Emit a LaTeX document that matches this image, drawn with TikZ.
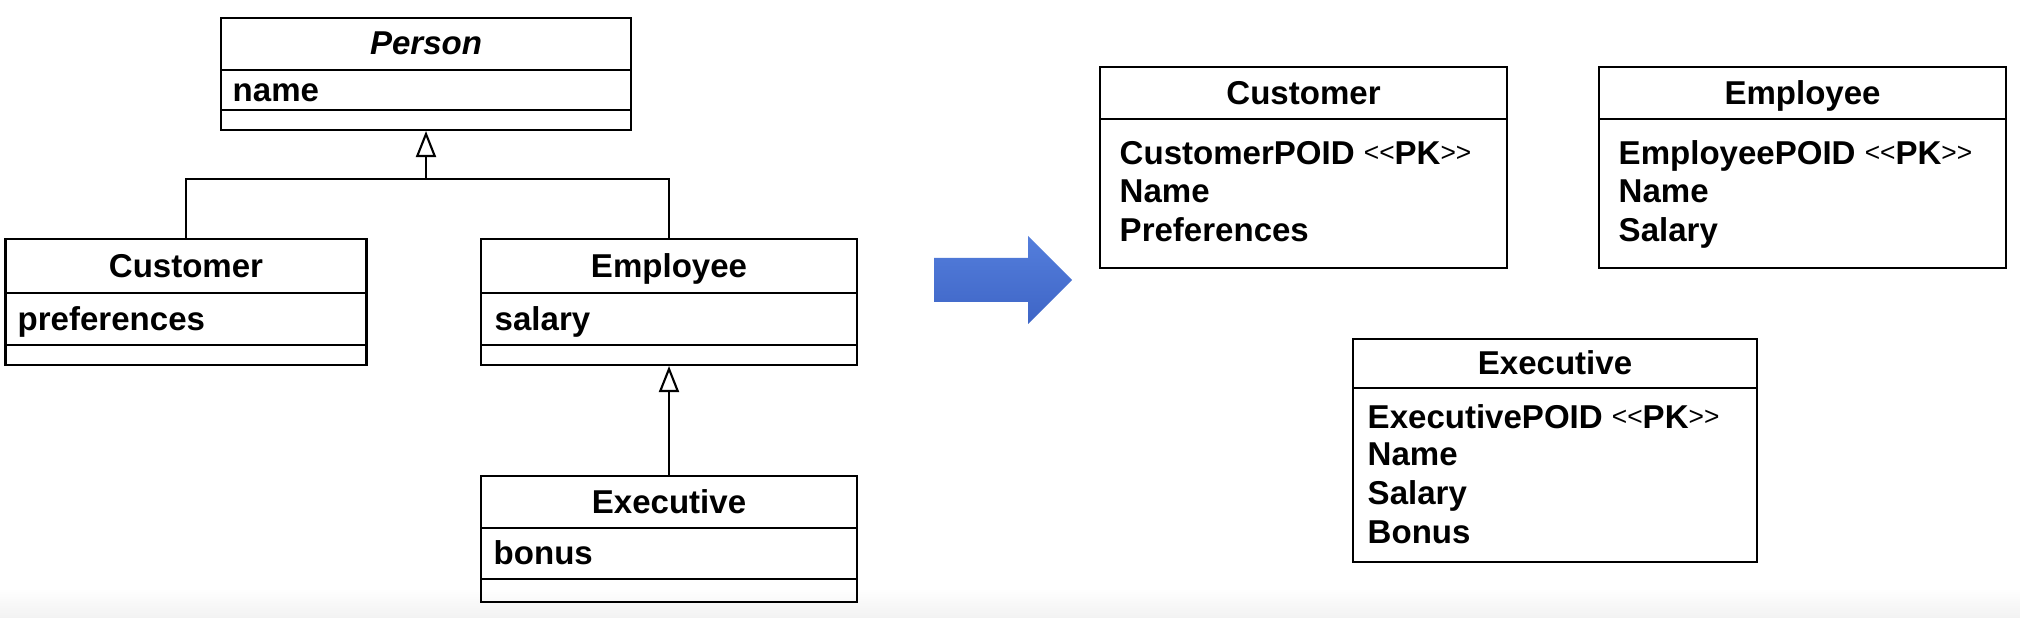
\documentclass[tikz,border=0pt]{standalone}
\usepackage{fontspec}
\setmainfont{Liberation Sans}
\usepackage{xcolor}
\usepackage{tikz}
\usetikzlibrary{positioning,arrows.meta}

\definecolor{arrowtop}{RGB}{84,126,220}
\definecolor{arrowbot}{RGB}{62,101,198}
\definecolor{stripgray}{RGB}{242,242,242}

\tikzset{
  classbox/.style={draw, line width=0.6pt, inner sep=0pt},
  lbl/.style={font=\fontsize{9.4}{11}\selectfont\bfseries, inner sep=0pt,
              text height=2.35mm, text depth=0pt},
  attr/.style={lbl, anchor=west},
  inherit/.style={line width=0.6pt,
    -{Triangle[open, length=2.6mm, width=2mm, line width=0.6pt]}},
}
\newcommand{\angl}[1]{\raisebox{0.8pt}{\fontsize{7.5}{9}\selectfont\mdseries #1}}
\newcommand{\pktag}{\angl{<{}<}PK\angl{>{}>}}

\begin{document}
\begin{tikzpicture}[x=0.1mm, y=-0.1mm]
    \useasboundingbox (0,0) rectangle (2020,618);
    \shade[top color=white, bottom color=stripgray] (0,588) rectangle (2020,618);

    % class model
    \node[classbox, minimum width=41mm, minimum height=11.2mm] (person) at (426,74) {};
    \draw[line width=0.6pt] (221,70) -- (631,70) (221,110) -- (631,110);
    \node[lbl, font=\fontsize{9.4}{11}\selectfont\bfseries\itshape] (persontitle) at (426,43) {Person};
    \node[attr] (personname) at (232,90) {name};

    \node[classbox, minimum width=36.1mm, minimum height=12.6mm] (customer) at (186,302) {};
    \draw[line width=0.6pt] (5.5,293) -- (366.5,293) (5.5,345) -- (366.5,345);
    \node[lbl] (customertitle) at (186,266) {Customer};
    \node[attr] (customerpref) at (17,319) {preferences};

    \node[classbox, minimum width=37.6mm, minimum height=12.6mm] (employee) at (669,302) {};
    \draw[line width=0.6pt] (481,293) -- (857,293) (481,345) -- (857,345);
    \node[lbl] (employeetitle) at (669,266) {Employee};
    \node[attr] (employeesal) at (494,319) {salary};

    \node[classbox, minimum width=37.6mm, minimum height=12.6mm] (executive) at (669,539) {};
    \draw[line width=0.6pt] (481,528) -- (857,528) (481,579) -- (857,579);
    \node[lbl] (executivetitle) at (669,502) {Executive};
    \node[attr] (executivebonus) at (493,553) {bonus};

    \coordinate (split) at (426,179);
    \draw[line width=0.6pt] (customer.north) |- (split) -| (employee.north);
    \draw[inherit] (split) -- (person.south);
    \draw[inherit] (executive.north) -- (employee.south);

    % mapping arrow
    \shade[top color=arrowtop, bottom color=arrowbot]
        (934,258) -- (1028,258) -- (1028,236) -- (1072,280)
        -- (1028,324) -- (1028,302) -- (934,302) -- cycle;

    % tables
    \node[classbox, minimum width=40.7mm, minimum height=20.1mm] (customertab) at (1303.5,167.5) {};
    \draw[line width=0.6pt] (1100,119) -- (1507,119);
    \node[lbl] (customertabtitle) at (1303.5,93) {Customer};
    \foreach \i/\y/\txt in {1/153/CustomerPOID \pktag,
                            2/191/Name, 3/230/Preferences}
        \node[attr] (customercol\i) at (1119,\y) {\txt};

    \node[classbox, minimum width=40.7mm, minimum height=20.1mm] (employeetab) at (1802.5,167.5) {};
    \draw[line width=0.6pt] (1599,119) -- (2006,119);
    \node[lbl] (employeetabtitle) at (1802.5,93) {Employee};
    \foreach \i/\y/\txt in {1/153/EmployeePOID \pktag,
                            2/191/Name, 3/230/Salary}
        \node[attr] (employeecol\i) at (1618,\y) {\txt};

    \node[classbox, minimum width=40.4mm, minimum height=22.3mm] (executivetab) at (1555,450.5) {};
    \draw[line width=0.6pt] (1353,388) -- (1757,388);
    \node[lbl] (executivetabtitle) at (1555,363) {Executive};
    \foreach \i/\y/\txt in {1/417/ExecutivePOID \pktag,
                            2/454/Name, 3/493/Salary, 4/532/Bonus}
        \node[attr] (executivecol\i) at (1367,\y) {\txt};
\end{tikzpicture}
\end{document}
